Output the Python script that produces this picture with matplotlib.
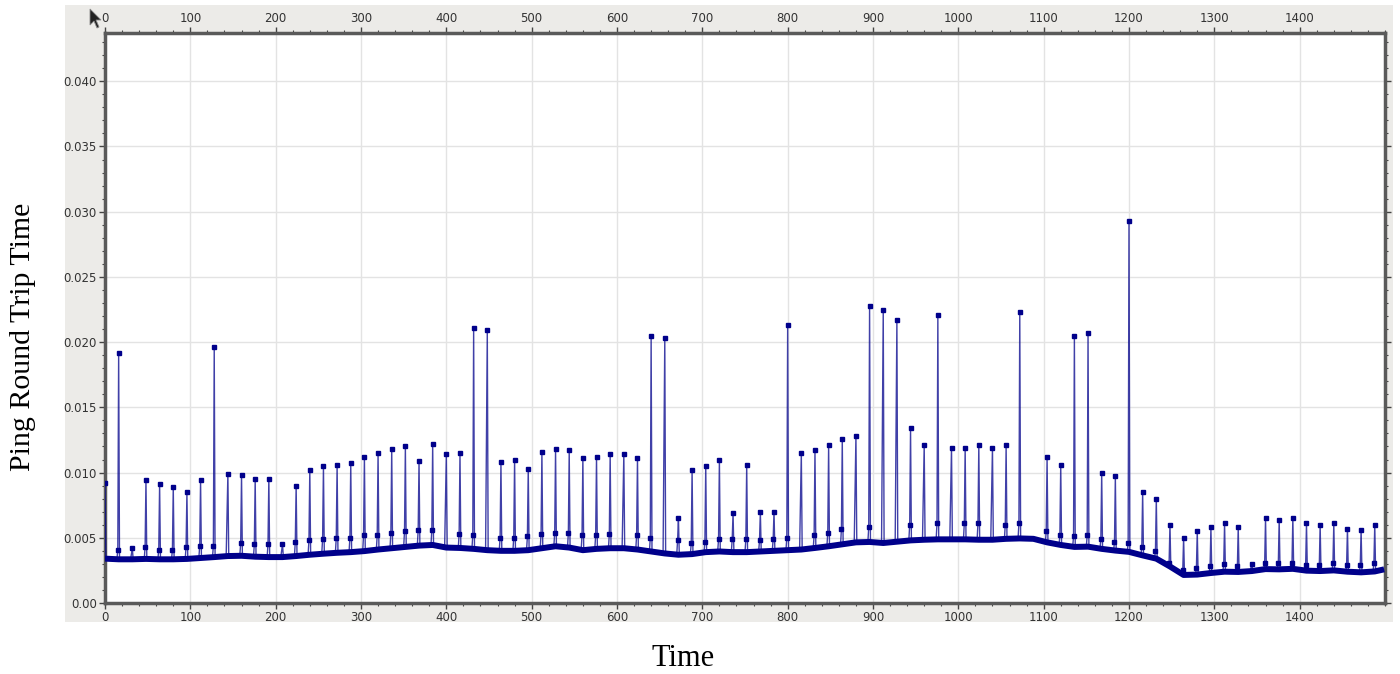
import numpy as np
import matplotlib
matplotlib.use("Agg")
import matplotlib.pyplot as plt
from matplotlib.ticker import MultipleLocator, FuncFormatter
from matplotlib.patches import Polygon

nan = float("nan")

# every 16th probe is a burst: one elevated probe followed by the peak probe
burst_time = list(range(0, 1500, 16))

peak_rtt = [
    0.0092, 0.0192, 0.0042, 0.0094, 0.0091, 0.0089, 0.0085, 0.0094, 0.0196, 0.0099,
    0.0098, 0.0095, 0.0095, 0.0045, 0.0090, 0.0102, 0.0105, 0.0106, 0.0107, 0.0112,
    0.0115, 0.0118, 0.0120, 0.0109, 0.0122, 0.0114, 0.0115, 0.0211, 0.0209, 0.0108,
    0.0110, 0.0103, 0.0116, 0.0118, 0.0117, 0.0111, 0.0112, 0.0114, 0.0114, 0.0111,
    0.0205, 0.0203, 0.0065, 0.0102, 0.0105, 0.0110, 0.0069, 0.0106, 0.0070, 0.0070,
    0.0213, 0.0115, 0.0117, 0.0121, 0.0126, 0.0128, 0.0228, 0.0225, 0.0217, 0.0134,
    0.0121, 0.0221, 0.0119, 0.0119, 0.0121, 0.0119, 0.0121, 0.0223, nan, 0.0112,
    0.0106, 0.0205, 0.0207, 0.0100, 0.0097, 0.0293, 0.0085, 0.0080, 0.0060, 0.0050,
    0.0055, 0.0058, 0.0061, 0.0058, 0.0030, 0.0065, 0.0064, 0.0065, 0.0061, 0.0060,
    0.0061, 0.0057, 0.0056, 0.0060,
]

pre_rtt = [
    nan, 0.0041, nan, 0.0043, 0.0041, 0.0041, 0.0043, 0.0044, 0.0044, nan,
    0.0046, 0.0045, 0.0045, nan, 0.0047, 0.0048, 0.0049, 0.0050, 0.0050, 0.0052,
    0.0052, 0.0054, 0.0055, 0.0056, 0.0056, nan, 0.0053, 0.0052, nan, 0.0050,
    0.0050, 0.0051, 0.0053, 0.0054, 0.0054, 0.0052, 0.0052, 0.0053, nan, 0.0052,
    0.0050, nan, 0.0048, 0.0046, 0.0047, 0.0049, 0.0049, 0.0049, 0.0048, 0.0049,
    0.0050, nan, 0.0052, 0.0054, 0.0057, nan, 0.0058, nan, nan, 0.0060,
    nan, 0.0061, nan, 0.0061, 0.0061, nan, 0.0060, 0.0061, nan, 0.0055,
    0.0052, 0.0051, 0.0052, 0.0049, 0.0047, 0.0046, 0.0043, 0.0040, 0.0031, 0.0025,
    0.0027, 0.0028, 0.0030, 0.0028, nan, 0.0031, 0.0031, 0.0031, 0.0029, 0.0029,
    0.0031, 0.0029, 0.0029, 0.0031,
]

base_time = burst_time + [1499]
base_rtt = [
    0.00340, 0.00335, 0.00335, 0.00338, 0.00335, 0.00335, 0.00338, 0.00345, 0.00352, 0.00360,
    0.00362, 0.00355, 0.00352, 0.00352, 0.00360, 0.00370, 0.00378, 0.00385, 0.00390, 0.00398,
    0.00410, 0.00420, 0.00430, 0.00440, 0.00445, 0.00425, 0.00422, 0.00415, 0.00405, 0.00400,
    0.00400, 0.00405, 0.00420, 0.00435, 0.00425, 0.00405, 0.00415, 0.00420, 0.00420, 0.00410,
    0.00395, 0.00380, 0.00370, 0.00375, 0.00390, 0.00395, 0.00390, 0.00390, 0.00395, 0.00400,
    0.00405, 0.00410, 0.00422, 0.00435, 0.00450, 0.00465, 0.00468, 0.00460, 0.00470, 0.00480,
    0.00485, 0.00488, 0.00488, 0.00488, 0.00485, 0.00485, 0.00492, 0.00495, 0.00492, 0.00465,
    0.00445, 0.00430, 0.00432, 0.00415, 0.00402, 0.00392, 0.00365, 0.00340, 0.00280, 0.00215,
    0.00218, 0.00230, 0.00240, 0.00238, 0.00245, 0.00260, 0.00258, 0.00262, 0.00248, 0.00245,
    0.00250, 0.00240, 0.00235, 0.00242, 0.00258,
]

x_ticks = [0, 100, 200, 300, 400, 500, 600, 700, 800, 900, 1000, 1100, 1200, 1300, 1400]
y_ticks = [0.0, 0.005, 0.010, 0.015, 0.020, 0.025, 0.030, 0.035, 0.040]

NAVY = "#00008b"
W, H = 1400, 674

fig = plt.figure(figsize=(14, 6.74), dpi=100)
fig.patch.set_facecolor("white")

# grey panel behind the plot (a separate background axes)
bg = fig.add_axes([65 / W, 1 - 622 / H, (1393 - 65) / W, (622 - 5) / H], zorder=-5)
bg.set_facecolor("#ecebe8")
bg.set_xticks([]); bg.set_yticks([])
for s in bg.spines.values():
    s.set_visible(False)

ax = fig.add_axes([105 / W, 1 - 603 / H, (1385 - 105) / W, (603 - 33) / H], zorder=1)
ax.set_facecolor("white")

# build the connected probe series from the arrays
xs, ys, mx, my = [], [], [], []
for k, t in enumerate(burst_time):
    b = base_rtt[k]
    if t - 2 >= 0:
        xs.append(t - 2); ys.append(b)
    if not np.isnan(pre_rtt[k]):
        xs.append(t - 1); ys.append(pre_rtt[k]); mx.append(t - 1); my.append(pre_rtt[k])
    if not np.isnan(peak_rtt[k]):
        xs.append(t); ys.append(peak_rtt[k]); mx.append(t); my.append(peak_rtt[k])
    xs.append(t + 1); ys.append(b)

ax.plot(xs, ys, color=NAVY, lw=1.0, alpha=0.75, zorder=3, solid_joinstyle="miter")
ax.plot(base_time, base_rtt, color=NAVY, lw=4.3, zorder=4, solid_capstyle="butt")
ax.plot(mx, my, linestyle="none", marker="s", markersize=3.4, color=NAVY, zorder=5)

ax.set_xlim(0, 1500)
ax.set_ylim(0, 0.0437)
ax.set_xticks(x_ticks)
ax.set_yticks(y_ticks)
ax.xaxis.set_minor_locator(MultipleLocator(20))
ax.yaxis.set_minor_locator(MultipleLocator(0.001))
ax.yaxis.set_major_formatter(FuncFormatter(lambda v, p: "0.00" if abs(v) < 1e-12 else f"{v:.3f}"))
ax.grid(True, which="major", color="#e3e3e3", lw=1.0, zorder=0)
ax.set_axisbelow(True)

ax.tick_params(which="both", direction="out", top=True, right=True, labeltop=True,
               labelright=False, colors="#444444", labelcolor="#333333", labelsize=8.5, pad=2)
ax.tick_params(which="major", length=4, width=1)
ax.tick_params(which="minor", length=2.5, width=0.8)
for s in ax.spines.values():
    s.set_color("#5a5a5a")
    s.set_linewidth(2.5)

fig.text(23 / W, 0.5, "Ping Round Trip Time", rotation=90, ha="center", va="center",
         fontsize=21.5, family="Liberation Serif", color="black")
fig.text(683 / W, 1 - 658 / H, "Time", ha="center", va="center",
         fontsize=22, family="Liberation Serif", color="black")

# mouse pointer visible in the captured screenshot
cursor_px = [(90, 9), (90, 25), (94, 21), (97, 28), (99, 27), (96, 20), (101, 20)]
fig.patches.append(Polygon([(x / W, 1 - y / H) for x, y in cursor_px], closed=True,
                           transform=fig.transFigure, facecolor="#222222",
                           edgecolor="#888888", lw=0.6, zorder=10))

fig.savefig("out.png", dpi=100)
